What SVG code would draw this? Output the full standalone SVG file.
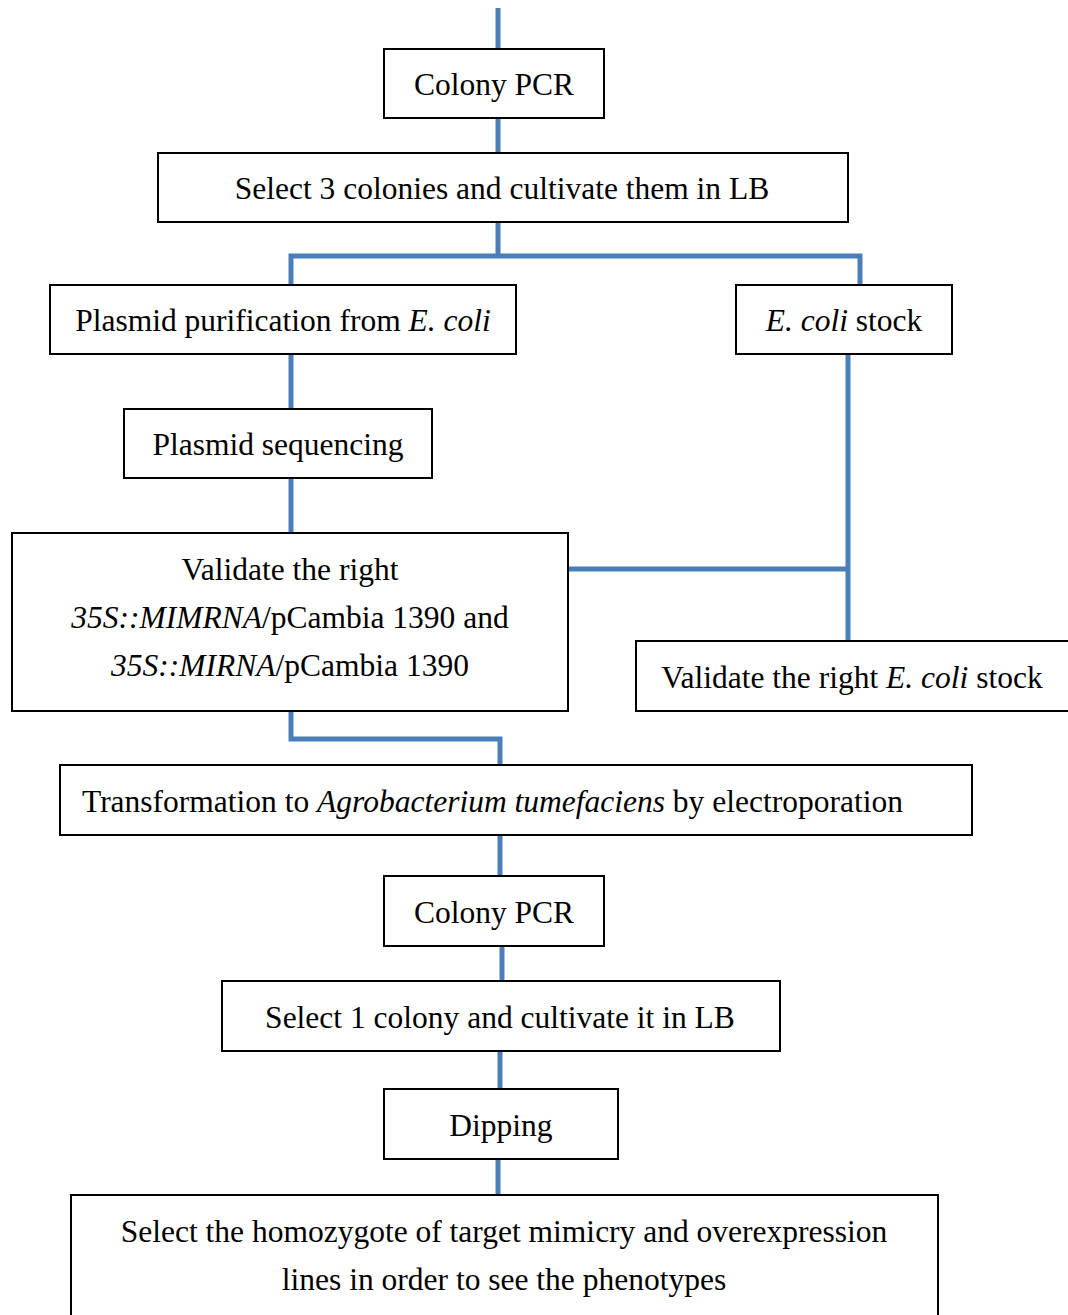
<svg xmlns="http://www.w3.org/2000/svg" width="1068" height="1315" viewBox="0 0 1068 1315">
<style>
.box{fill:#fff;stroke:#000;stroke-width:2}
.t{font-family:"Liberation Serif","Times New Roman",serif;font-size:31.5px;fill:#000;text-anchor:middle}
.i{font-style:italic}
.c{fill:none;stroke:#4a7ebb;stroke-width:5}
</style>
<rect width="1068" height="1315" fill="#fff"/>
<g id="connectors">
<path class="c" d="M498 8V49"/>
<path class="c" d="M498 118V153"/>
<path class="c" d="M498 222V256M291 285V256H860V285"/>
<path class="c" d="M291 354V409"/>
<path class="c" d="M291 478V533"/>
<path class="c" d="M848 354V641M568 569H848"/>
<path class="c" d="M291 711V739H500V765"/>
<path class="c" d="M500 835V876"/>
<path class="c" d="M502 946V981"/>
<path class="c" d="M500 1051V1089"/>
<path class="c" d="M498 1159V1195"/>
</g>
<g id="n1"><rect class="box" x="384" y="49" width="220" height="69"/><text class="t" x="494" y="95">Colony PCR</text></g>
<g id="n2"><rect class="box" x="158" y="153" width="690" height="69"/><text class="t" x="502" y="199">Select 3 colonies and cultivate them in LB</text></g>
<g id="n3"><rect class="box" x="50" y="285" width="466" height="69"/><text class="t" x="283" y="331">Plasmid purification from <tspan class="i">E. coli</tspan></text></g>
<g id="n4"><rect class="box" x="736" y="285" width="216" height="69"/><text class="t" x="844" y="331"><tspan class="i">E. coli</tspan> stock</text></g>
<g id="n5"><rect class="box" x="124" y="409" width="308" height="69"/><text class="t" x="278" y="455">Plasmid sequencing</text></g>
<g id="n6"><rect class="box" x="12" y="533" width="556" height="178"/>
<text class="t" x="290" y="580">Validate the right</text>
<text class="t" x="290" y="628"><tspan class="i">35S::MIMRNA</tspan>/pCambia 1390 and</text>
<text class="t" x="290" y="676"><tspan class="i">35S::MIRNA</tspan>/pCambia 1390</text></g>
<g id="n7"><rect class="box" x="636" y="641" width="440" height="70"/><text class="t" x="852" y="688">Validate the right <tspan class="i">E. coli</tspan> stock</text></g>
<g id="n8"><rect class="box" x="60" y="765" width="912" height="70"/><text class="t" x="82" y="812" style="text-anchor:start">Transformation to <tspan class="i">Agrobacterium tumefaciens</tspan> by electroporation</text></g>
<g id="n9"><rect class="box" x="384" y="876" width="220" height="70"/><text class="t" x="494" y="923">Colony PCR</text></g>
<g id="n10"><rect class="box" x="222" y="981" width="558" height="70"/><text class="t" x="500" y="1028">Select 1 colony and cultivate it in LB</text></g>
<g id="n11"><rect class="box" x="384" y="1089" width="234" height="70"/><text class="t" x="501" y="1136">Dipping</text></g>
<g id="n12"><rect class="box" x="71" y="1195" width="867" height="130"/>
<text class="t" x="504" y="1242">Select the homozygote of target mimicry and overexpression</text>
<text class="t" x="504" y="1290">lines in order to see the phenotypes</text></g>
</svg>
